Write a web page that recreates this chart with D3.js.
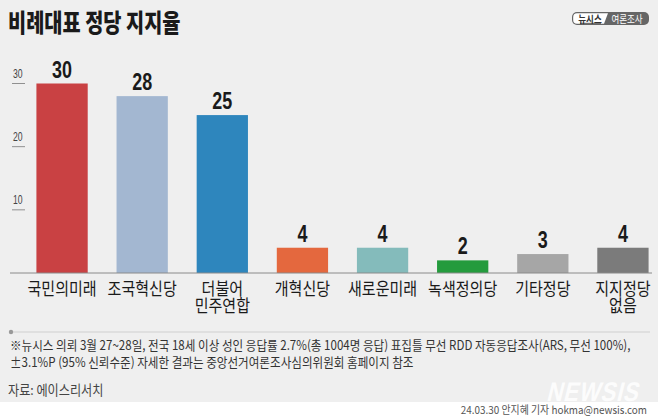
<!DOCTYPE html>
<html>
<head>
<meta charset="utf-8">
<script src="https://cdn.jsdelivr.net/npm/d3@7"></script>
<style>
  body { margin: 0; background: #fff; }
  svg { display: block; }
</style>
</head>
<body>
<svg id="chart"></svg>
<script>
const categories = [["국민의미래"], ["조국혁신당"], ["더불어", "민주연합"], ["개혁신당"],
                    ["새로운미래"], ["녹색정의당"], ["기타정당"], ["지지정당", "없음"]];
const values = [30, 28, 25, 4, 4, 2, 3, 4];
const colors = ["#c94143", "#a3b7d1", "#2e86bd", "#e4683e", "#84bbbb", "#249b3d", "#a6a6a6", "#7b7b7b"];
const yTicks = [10, 20, 30];

const W = 658, H = 420;
const kr = "'Noto Sans CJK KR', sans-serif";
const lat = "'Liberation Sans', Arial, sans-serif";

const svg = d3.select("#chart").attr("width", W).attr("height", H);

svg.append("rect").attr("width", W).attr("height", 402).attr("fill", "#efefef");

// title
svg.append("text")
    .attr("transform", "translate(8,32) scale(0.79,1)")
    .style("font-family", kr).style("font-weight", "900").style("font-size", "25px")
    .style("fill", "#1a1a1a")
    .text("비례대표 정당 지지율");

// logo
const logo = svg.append("g").attr("transform", "translate(572,12)");
logo.append("rect").attr("x", 0).attr("y", 0).attr("width", 77).attr("height", 13).attr("rx", 5)
    .attr("fill", "#666");
logo.append("path").attr("d", "M5,1.2 H36 L32,11.8 H5 Q1.2,11.8 1.2,8 V5 Q1.2,1.2 5,1.2 Z").attr("fill", "#fff");
logo.append("text")
    .attr("transform", "translate(18,10.5) scale(0.85,1)")
    .attr("text-anchor", "middle")
    .style("font-family", kr).style("font-weight", "bold").style("font-size", "10px").style("fill", "#333")
    .text("뉴시스");
logo.append("line").attr("x1", 8).attr("x2", 29).attr("y1", 11.3).attr("y2", 11.3)
    .attr("stroke", "#333").attr("stroke-width", 0.8);
logo.append("text")
    .attr("transform", "translate(55,10.5) scale(0.85,1)")
    .attr("text-anchor", "middle")
    .style("font-family", kr).style("font-size", "10px").style("fill", "#fff")
    .text("여론조사");

const x = d3.scaleBand()
    .domain(d3.range(categories.length))
    .range([22, 663])
    .paddingInner(0.36)
    .paddingOuter(0.18);

const y = d3.scaleLinear().domain([0, 30]).range([273, 83.5]);

// y ticks
const tick = svg.append("g").selectAll("g").data(yTicks).enter().append("g");
tick.append("line")
    .attr("x1", 12).attr("x2", 25)
    .attr("y1", d => y(d)).attr("y2", d => y(d))
    .attr("stroke", "#777").attr("stroke-width", 0.8);
tick.append("text")
    .attr("transform", d => `translate(13,${y(d) - 6}) scale(0.72,1)`)
    .style("font-family", lat).style("font-size", "12px").style("fill", "#444")
    .text(d => d);

// bars
svg.append("g").selectAll("rect")
    .data(values)
    .enter().append("rect")
    .attr("x", (d, i) => x(i))
    .attr("width", x.bandwidth())
    .attr("y", d => y(d))
    .attr("height", d => y(0) - y(d))
    .attr("fill", (d, i) => colors[i]);

// baseline
svg.append("line")
    .attr("x1", 10).attr("x2", 652)
    .attr("y1", y(0)).attr("y2", y(0))
    .attr("stroke", "#8a8a8a").attr("stroke-width", 1);

// value labels
svg.append("g").selectAll("text")
    .data(values)
    .enter().append("text")
    .attr("transform", (d, i) => `translate(${x(i) + x.bandwidth() / 2},${y(d) - 6}) scale(0.78,1)`)
    .attr("text-anchor", "middle")
    .style("font-family", lat).style("font-weight", "bold").style("font-size", "23px")
    .style("fill", "#1a1a1a")
    .text(d => d);

// category labels, one text per line
const lines = categories.flatMap((c, i) => c.map((t, j) => ({ t, i, j })));
svg.append("g").selectAll("text")
    .data(lines)
    .enter().append("text")
    .attr("transform", d => `translate(${x(d.i) + x.bandwidth() / 2},${295 + d.j * 17}) scale(0.86,1)`)
    .attr("text-anchor", "middle")
    .style("font-family", kr).style("font-size", "17.5px").style("fill", "#1a1a1a")
    .text(d => d.t);

// separator
svg.append("line").attr("x1", 10).attr("x2", 650).attr("y1", 332).attr("y2", 332)
    .attr("stroke", "#cfcfcf").attr("stroke-width", 1);
svg.append("circle").attr("cx", 11).attr("cy", 332).attr("r", 2.2).attr("fill", "#999");

// footnotes
const note = ["※뉴시스 의뢰 3월 27~28일, 전국 18세 이상 성인 응답률 2.7%(총 1004명 응답) 표집틀 무선 RDD 자동응답조사(ARS, 무선 100%),",
              "±3.1%P (95% 신뢰수준) 자세한 결과는 중앙선거여론조사심의위원회 홈페이지 참조"];
svg.append("g").selectAll("text")
    .data(note)
    .enter().append("text")
    .attr("transform", (d, i) => `translate(10,${350 + i * 17}) scale(0.89,1)`)
    .style("font-family", kr).style("font-size", "13px").style("fill", "#333")
    .text(d => d);

svg.append("text")
    .attr("transform", "translate(8,395) scale(0.9,1)")
    .style("font-family", kr).style("font-size", "13.5px").style("fill", "#444")
    .text("자료: 에이스리서치");

// watermark
svg.append("text")
    .attr("transform", "translate(546,401) skewX(-14) scale(0.82,1)")
    .style("font-family", lat).style("font-weight", "bold").style("font-size", "27px")
    .style("fill", "#ffffff").style("opacity", 0.85).style("letter-spacing", "1px")
    .text("NEWSIS");

svg.append("text")
    .attr("transform", "translate(647,414) scale(0.9,1)")
    .attr("text-anchor", "end")
    .style("font-family", kr).style("font-size", "11px").style("fill", "#555")
    .text("24.03.30 안지혜 기자 hokma@newsis.com");
</script>
</body>
</html>
